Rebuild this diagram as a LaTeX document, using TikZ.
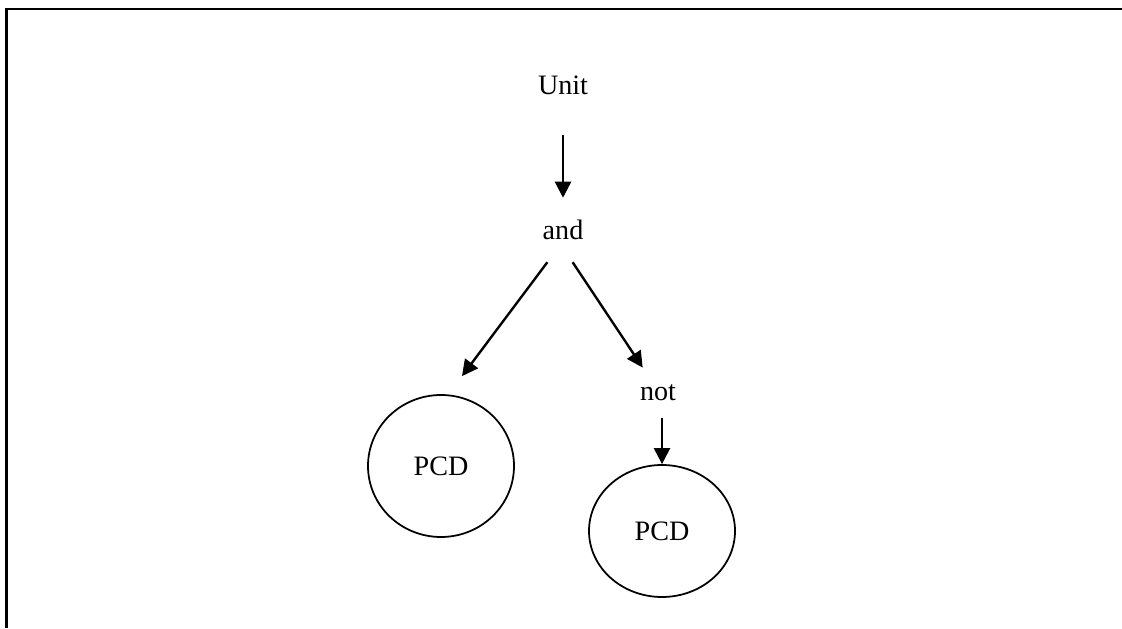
\documentclass[tikz,border=0pt]{standalone}
\usepackage{fontspec}
\setmainfont{Liberation Serif}
\usepackage{tikz}
\usetikzlibrary{shapes,positioning,calc}
\usetikzlibrary{shapes.geometric, arrows}
\usetikzlibrary{arrows.meta}
\tikzstyle{parola} = [inner sep=0pt, font=\fontsize{16}{19}\selectfont]
\tikzstyle{pcd} = [ellipse, minimum width=2.92cm, text centered, draw=black, line width=1pt, font=\fontsize{16}{19}\selectfont]
\tikzstyle{arrow} = [line width=1.35pt,-{Triangle[length=0.32cm,width=0.32cm]}]

\begin{document}
\begin{tikzpicture}
				\useasboundingbox (0,0) rectangle (22.44,12.56);
				\draw[line width=1.3pt] (0.13,0) -- (0.13,12.38) -- (22.44,12.38);
				\node (unit) at (11.26,10.86) [parola] {Unit};
				\node (and) at (11.26,7.96) [parola] {and};
				\node (not) at (13.16,4.70) [parola] {not};
				\node (pcdl) at (8.82,3.24) [pcd, minimum height=2.84cm] {PCD};
				\node (pcdr) at (13.24,1.94) [pcd, minimum height=2.64cm] {PCD};
				\draw[arrow] ([yshift=-0.8cm]unit.south) -- ([yshift=0.44cm]and.north);
				\draw[arrow] ([shift={(0.1,-0.44)}]and.south west) -- ([shift={(0.42,0.36)}]pcdl.north);
				\draw[arrow] ([shift={(-0.22,-0.44)}]and.south east) -- ([shift={(0.06,0.34)}]not.north west);
				\draw[arrow] ([yshift=-0.34cm]not.south -| pcdr.north) -- (pcdr.north);
				\end{tikzpicture}
\end{document}
